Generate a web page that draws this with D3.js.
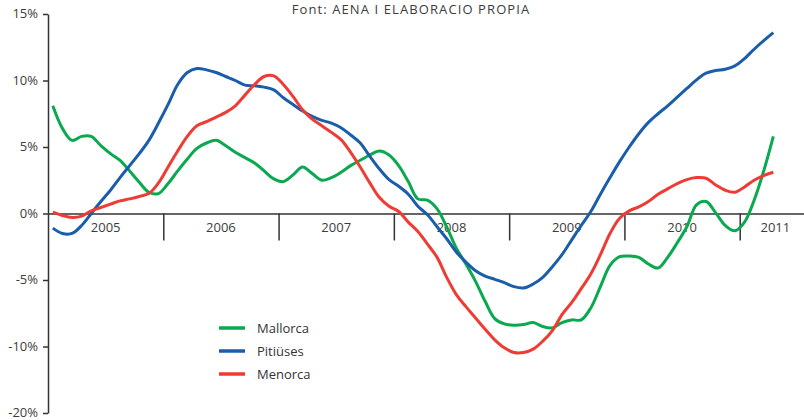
<!DOCTYPE html>
<html>
<head>
<meta charset="utf-8">
<script src="https://cdn.jsdelivr.net/npm/d3@7"></script>
<style>
  html, body { margin: 0; padding: 0; background: #fff; }
  svg { display: block; font-family: "Open Sans", Lato, sans-serif; }
</style>
</head>
<body>
<svg id="chart" width="804" height="420"></svg>
<script>
// ---- data ----
const title = "Font: AENA I ELABORACIO PROPIA";
const startYear = 2005;
const years = [2005, 2006, 2007, 2008, 2009, 2010, 2011];
const seriesNames = ["Mallorca", "Pitiüses", "Menorca"];
const yTickValues = [15, 10, 5, 0, -5, -10, -15];
const yTickLabels = ["15%", "10%", "5%", "0%", "-5%", "-10%", "-20%"];

// monthly values, Jan 2005 - Apr 2011
const mallorca = [
  8.1, 6.4, 5.5, 5.8, 5.8, 5.1, 4.5, 4.0, 3.2, 2.35, 1.6, 1.5,
  2.25, 3.2, 4.1, 4.9, 5.3, 5.5, 5.1, 4.6, 4.2, 3.8, 3.2, 2.6,
  2.4, 2.9, 3.5, 3.0, 2.5, 2.7, 3.1, 3.6, 4.0, 4.4, 4.7, 4.4,
  3.6, 2.4, 1.1, 1.0, 0.35, -1.0, -2.6, -3.8, -5.1, -6.6, -7.9, -8.3,
  -8.4, -8.35, -8.2, -8.5, -8.6, -8.2, -8.0, -8.0, -7.1, -5.5, -3.9, -3.25,
  -3.2, -3.3, -3.8, -4.1, -3.3, -2.2, -1.0, 0.65, 0.9, 0.05, -0.9, -1.3,
  -0.65, 1.0, 3.2, 5.8
];
const pitiuses = [
  -1.1, -1.5, -1.5, -0.9, 0.0, 0.9, 1.75, 2.7, 3.6, 4.5, 5.5, 6.8,
  8.2, 9.7, 10.6, 10.9, 10.8, 10.6, 10.3, 10.0, 9.65, 9.6, 9.5, 9.3,
  8.7, 8.2, 7.7, 7.3, 7.0, 6.8, 6.45, 5.9, 5.3, 4.3, 3.35, 2.55,
  2.05, 1.45, 0.55, -0.1, -1.0, -1.9, -2.9, -3.65, -4.3, -4.7, -4.95, -5.2,
  -5.5, -5.6, -5.3, -4.8, -4.0, -3.1, -2.0, -0.9, 0.15, 1.45, 2.7, 3.9,
  5.0, 6.0, 6.85, 7.5, 8.1, 8.75, 9.4, 10.05, 10.55, 10.75, 10.85, 11.1,
  11.65, 12.35, 13.0, 13.6
];
const menorca = [
  0.1, -0.15, -0.3, -0.2, 0.2, 0.45, 0.7, 0.95, 1.1, 1.28, 1.5, 2.3,
  3.5, 4.7, 5.8, 6.6, 6.9, 7.25, 7.6, 8.1, 8.9, 9.7, 10.3, 10.35,
  9.7, 8.8, 7.8, 7.1, 6.6, 6.1, 5.55, 4.6, 3.5, 2.3, 1.2, 0.55,
  0.15, -0.65, -1.35, -2.3, -3.3, -4.8, -6.1, -7.0, -7.85, -8.7, -9.5, -10.1,
  -10.45, -10.45, -10.2, -9.6, -8.8, -7.6, -6.7, -5.65, -4.55, -3.1, -1.5, -0.35,
  0.2, 0.5, 0.9, 1.45, 1.85, 2.25, 2.55, 2.7, 2.65, 2.15, 1.75, 1.6,
  2.0, 2.5, 2.85, 3.1
];
const colors = ["#0aa84f", "#1a5dab", "#ee3b34"];

// ---- layout ----
const svg = d3.select("#chart");
const x = d3.scaleLinear().domain([2005, 2012]).range([48, 855]);
const axisRight = 811;
const y = d3.scaleLinear().domain([-15, 15]).range([413, 14]);

const ink = "#333";
const textInk = "#3c3c3c";

// title
svg.append("text")
  .attr("x", 411).attr("y", 13.5)
  .attr("text-anchor", "middle")
  .attr("font-size", 13)
  .attr("letter-spacing", 1.1)
  .attr("fill", textInk)
  .text(title);

// y axis
const labelMap = new Map(yTickValues.map((v, i) => [v, yTickLabels[i]]));
const yAxis = d3.axisLeft(y)
  .tickValues(yTickValues)
  .tickSize(5)
  .tickSizeOuter(0)
  .tickPadding(5)
  .tickFormat(d => labelMap.get(d));
const gy = svg.append("g").attr("transform", "translate(48,0)").call(yAxis);
gy.select(".domain").attr("stroke", ink).attr("stroke-width", 1.5);
gy.selectAll(".tick line").attr("stroke", ink).attr("stroke-width", 1.5);
gy.selectAll(".tick text")
  .attr("font-family", "'Open Sans', Lato, sans-serif")
  .attr("font-size", 13).attr("fill", textInk)
  .attr("dy", "0.3em");

// x axis at 0% with year separators
const x2 = x.copy().domain([2005, x.invert(axisRight)]).range([48, axisRight]);
const xAxis = d3.axisBottom(x2)
  .tickValues(years.slice(1))
  .tickSize(27)
  .tickSizeOuter(0)
  .tickFormat("");
const gx = svg.append("g").attr("transform", `translate(0,${y(0)})`).call(xAxis);
gx.select(".domain").attr("stroke", ink).attr("stroke-width", 1.5);
gx.selectAll(".tick line").attr("stroke", ink).attr("stroke-width", 1.5);

svg.append("g").selectAll("text")
  .data(years)
  .join("text")
  .attr("x", d => (x(d) + Math.min(x(d + 1), axisRight)) / 2)
  .attr("y", y(0) + 18)
  .attr("text-anchor", "middle")
  .attr("font-size", 13)
  .attr("fill", textInk)
  .text(d => d);

// lines
const allSeries = [mallorca, pitiuses, menorca];
const line = d3.line()
  .x((d, i) => x(startYear + (i + 0.5) / 12))
  .y(d => y(d))
  .curve(d3.curveCatmullRom.alpha(0.5));

svg.append("g").selectAll("path")
  .data(allSeries)
  .join("path")
  .attr("d", d => line(d))
  .attr("fill", "none")
  .attr("stroke", (d, i) => colors[i])
  .attr("stroke-width", 3)
  .attr("stroke-linejoin", "round")
  .attr("stroke-linecap", "butt");

// legend
const legend = svg.append("g").attr("transform", "translate(219,328)");
const li = legend.selectAll("g")
  .data(seriesNames)
  .join("g")
  .attr("transform", (d, i) => `translate(0,${i * 23})`);
li.append("line")
  .attr("x1", 0).attr("x2", 26).attr("y1", 0).attr("y2", 0)
  .attr("stroke", (d, i) => colors[i])
  .attr("stroke-width", 3.5);
li.append("text")
  .attr("x", 38).attr("y", 4.5)
  .attr("font-size", 13)
  .attr("fill", "#333")
  .text(d => d);
</script>
</body>
</html>
